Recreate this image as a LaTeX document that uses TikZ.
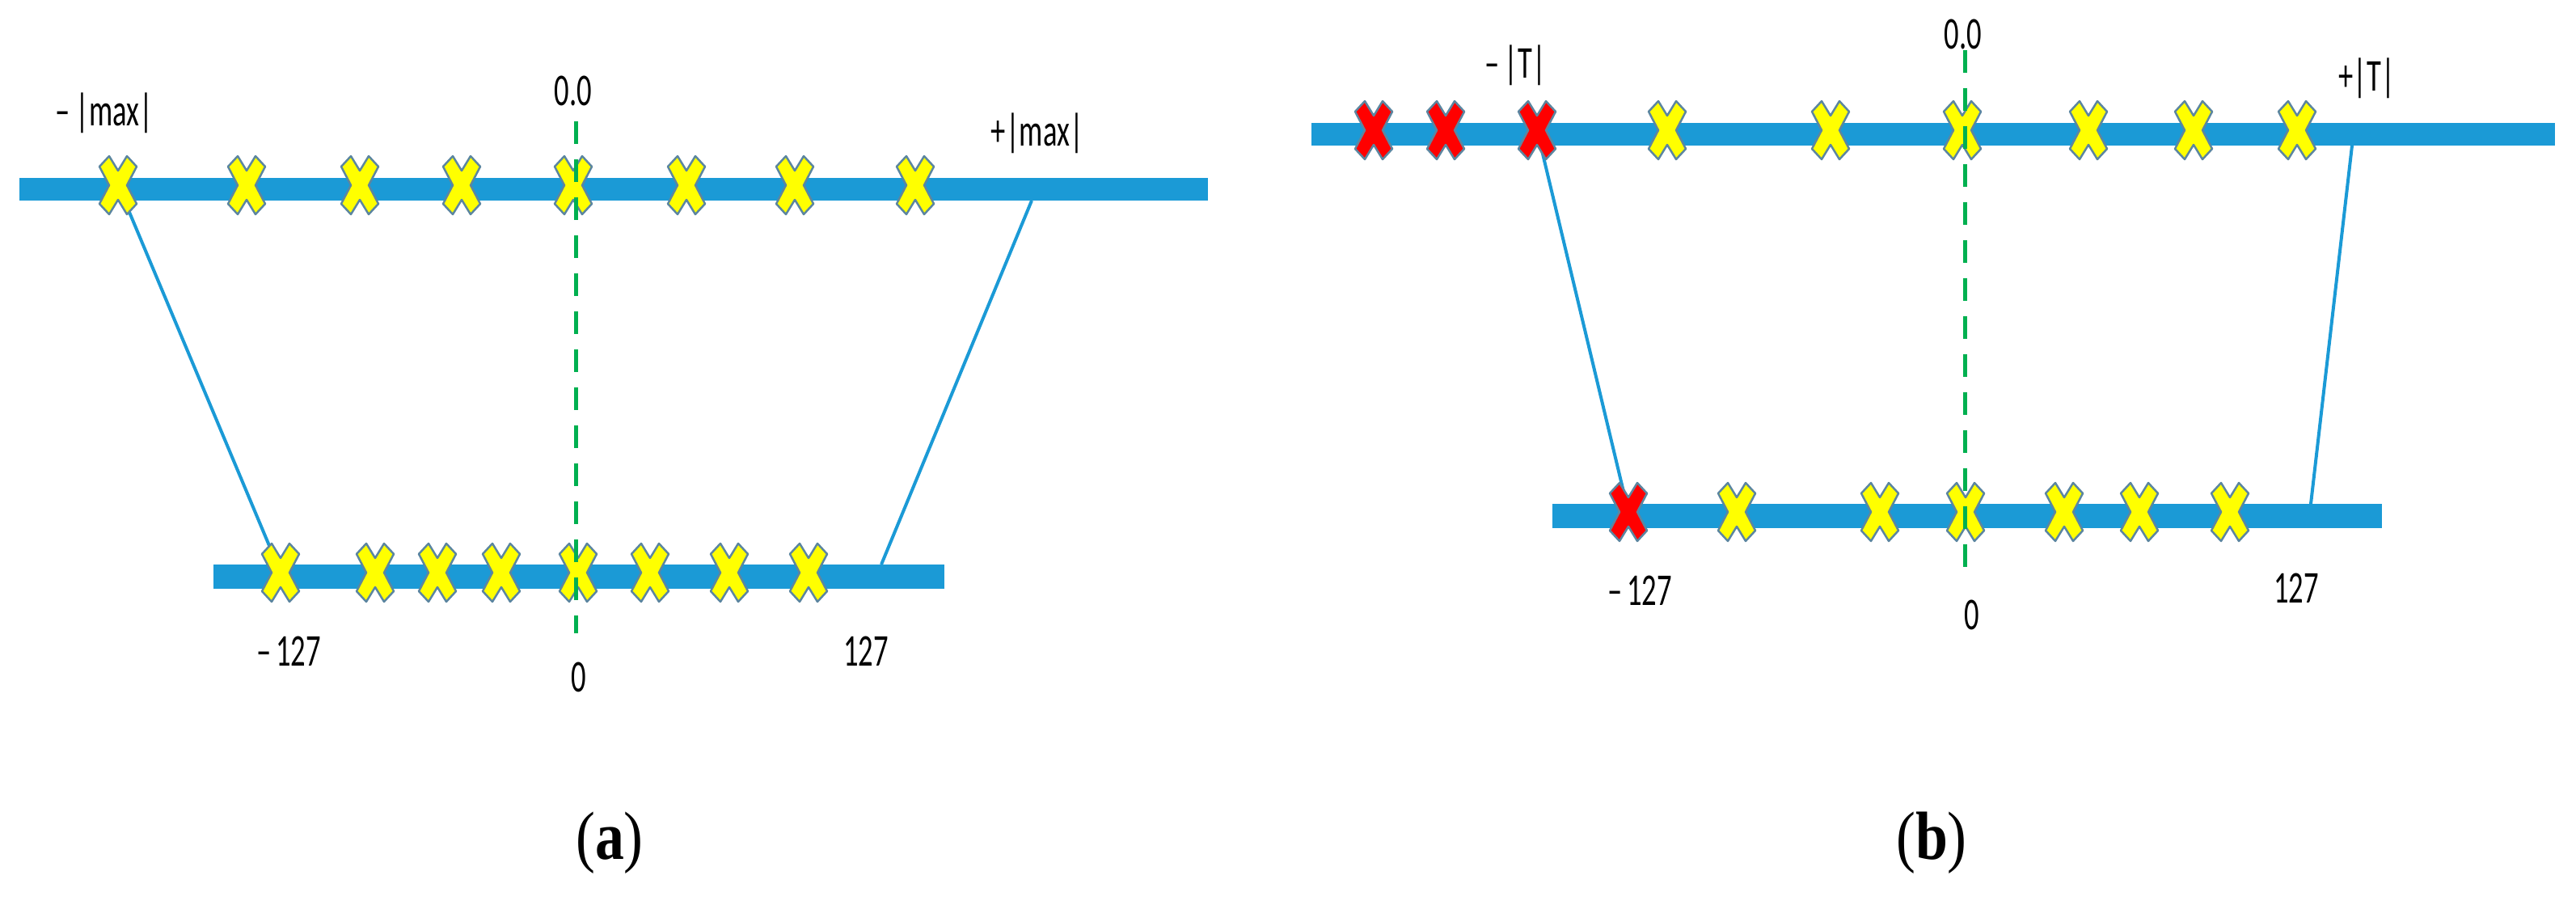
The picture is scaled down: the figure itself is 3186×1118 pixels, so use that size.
\documentclass[tikz,border=0pt]{standalone}
\usepackage{fontspec}
\setmainfont{Liberation Serif}
\newfontfamily\lblfont{Carlito}
\usepackage{tikz}
\usetikzlibrary{positioning}
\definecolor{barblue}{RGB}{27,154,214}
\definecolor{zerogreen}{RGB}{0,176,80}
\definecolor{xedge}{RGB}{92,134,160}
\definecolor{xyellow}{RGB}{255,255,0}
\definecolor{xred}{RGB}{255,0,0}
\tikzset{
    bar/.style={
           rectangle,
           fill=barblue,
           minimum height=2.8mm,
           inner sep=0pt,
           },
    link/.style={draw=barblue, line width=0.4mm},
    zero/.style={draw=zerogreen, line width=0.5mm, dash pattern=on 2.8mm off 1.9mm},
    xmk/.style={draw=xedge, line width=0.25mm, line join=round},
    lbl/.style={font=\lblfont\fontsize{16}{18}\selectfont, xscale=0.65, inner sep=0pt},
    capt/.style={font=\fontsize{24}{26}\selectfont, xscale=0.85, inner sep=0pt},
}
% one cross mark: position, fill colour
\newcommand{\xmk}[2]{%
  \filldraw[xmk, fill=#2, shift={(#1)}]
    (-23,23) -- (-11,36) -- (0,18) -- (11,36) -- (23,23) -- (11,0)
    -- (23,-23) -- (11,-36) -- (0,-18) -- (-11,-36) -- (-23,-23) -- (-11,0) -- cycle;}

\begin{document}
\begin{tikzpicture}[x=0.1mm, y=-0.1mm]
 \useasboundingbox (0,0) rectangle (3186,1118);

 % (a): cross positions on both bars
 \foreach \x [count=\i] in {146,305,445,571,709,849,983,1132}
   \coordinate (ta\i) at (\x,229);
 \foreach \x [count=\i] in {347,464,541,620,715,804,902,1000}
   \coordinate (ba\i) at (\x,708);
 % (b): first three on top and first one below are red
 \foreach \x [count=\i] in {1699,1788,1901,2062,2264,2427,2583,2713,2841}
   \coordinate (tb\i) at (\x,161);
 \foreach \x [count=\i] in {2014,2148,2325,2431,2553,2646,2758}
   \coordinate (bb\i) at (\x,633);

 % free ends of the right links and of the zero lines
 \coordinate (raT) at (1276,248);
 \coordinate (raB) at (1090,698);
 \coordinate (rbT) at (2909,180);
 \coordinate (rbB) at (2858,623);
 \coordinate (zaT) at (712,150);
 \coordinate (zaB) at (712,783);
 \coordinate (zbT) at (2430,62);
 \coordinate (zbB) at (2430,707);

 % links under the bars
 \path
	(ta1) edge[link] (ba1)
	(raT) edge[link] (raB)
	(tb3) edge[link] (bb1)
	(rbT) edge[link] (rbB);

 % bars
 \node[bar, minimum width=147mm] (topA) at (759,234) {};
 \node[bar, minimum width=90.4mm, minimum height=3mm] (botA) at (716,713) {};
 \node[bar, minimum width=153.8mm] (topB) at (2391,166) {};
 \node[bar, minimum width=102.6mm, minimum height=3mm] (botB) at (2433,638) {};

 % cross marks
 \foreach \i in {1,...,8} {\xmk{ta\i}{xyellow} \xmk{ba\i}{xyellow}}
 \foreach \i in {1,2,3} {\xmk{tb\i}{xred}}
 \foreach \i in {4,...,9} {\xmk{tb\i}{xyellow}}
 \xmk{bb1}{xred}
 \foreach \i in {2,...,7} {\xmk{bb\i}{xyellow}}

 % zero lines on top
 \draw[zero] (zaT) -- (zaB);
 \draw[zero] (zbT) -- (zbB);

 % labels (a)
 \node[lbl] (minA) at (129,140) {\textendash\,|max|};
 \node[lbl] (zeroA) at (709,112) {0.0};
 \node[lbl] (plusA) at (1283,165) {+|max|};
 \node[lbl] (lowA) at (357,805) {\textendash\,127};
 \node[lbl] (midA) at (716,837) {0};
 \node[lbl] (highA) at (1071,805) {127};
 % labels (b)
 \node[lbl] (minB) at (1874,81) {\textendash\,|T|};
 \node[lbl] (zeroB) at (2428,42) {0.0};
 \node[lbl] (plusB) at (2927,97) {+|T|};
 \node[lbl] (lowB) at (2028,730) {\textendash\,127};
 \node[lbl] (midB) at (2439,760) {0};
 \node[lbl] (highB) at (2840,727) {127};

 % captions
 \node[capt] (capA) at (754,1042) {(\textbf{a})};
 \node[capt] (capB) at (2389,1042) {(\textbf{b})};
\end{tikzpicture}
\end{document}
